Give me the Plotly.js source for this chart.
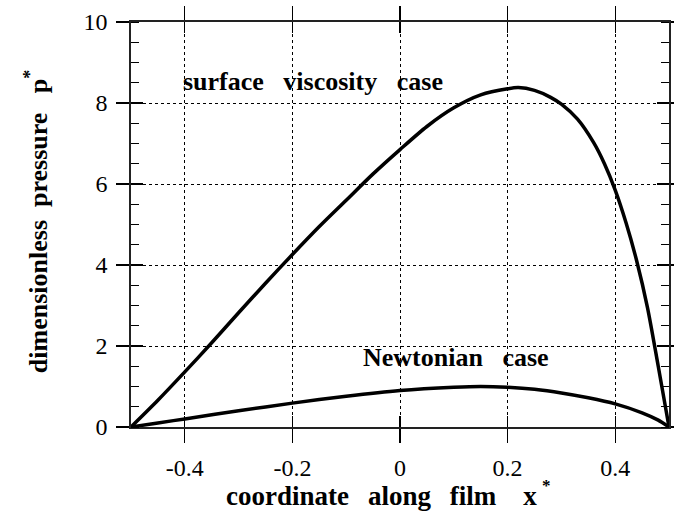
<!DOCTYPE html>
<html>
<head>
<meta charset="utf-8">
<script src="https://cdn.plot.ly/plotly-3.0.1.min.js"></script>
<style>html,body{margin:0;padding:0;background:#fff;}#chart{width:674px;height:511px;}</style>
</head>
<body>
<div id="chart"></div>
<script>
// Surface viscosity case
const xSurface = [-0.5,-0.45,-0.4,-0.35,-0.3,-0.25,-0.2,-0.15,-0.1,-0.05,0,0.05,0.1,0.15,0.2,0.22,0.25,0.28,0.3,0.33,0.36,0.38,0.4,0.42,0.44,0.46,0.48,0.5];
const pSurface = [0,0.66,1.36,2.08,2.82,3.55,4.26,4.95,5.6,6.25,6.85,7.42,7.88,8.2,8.35,8.38,8.31,8.14,7.97,7.6,7.02,6.5,5.85,5.05,4.1,2.95,1.5,0];
// Newtonian case
const xNewton = [-0.5,-0.45,-0.4,-0.3,-0.2,-0.1,0,0.1,0.15,0.2,0.25,0.3,0.35,0.4,0.45,0.48,0.5];
const pNewton = [0,0.1,0.2,0.4,0.59,0.76,0.9,0.98,1.0,0.98,0.93,0.84,0.72,0.57,0.35,0.17,0];
const xTicks = [-0.4,-0.2,0,0.2,0.4];
const xTickLabels = ['-0.4','-0.2','0','0.2','0.4'];
const yTicks = [0,2,4,6,8,10];
const yTickLabels = ['0','2','4','6','8','10'];
const labelSurface = 'surface&nbsp;&nbsp;&nbsp;viscosity&nbsp;&nbsp;&nbsp;case';
const labelNewton = 'Newtonian&nbsp;&nbsp;&nbsp;case';
const xTitle = 'coordinate\u2002\u2009along\u2002\u2009film\u2003x';
const xTitleStar = '*';
const yTitle = 'dimensionless&nbsp;&nbsp;pressure&nbsp;&nbsp;&nbsp;p<sup>*</sup>';

const serif = 'Liberation Serif, Times New Roman, serif';
const lineStyle = {color:'#000', width:3.5, shape:'spline', smoothing:0.8};

const data = [
  {x:xSurface, y:pSurface, mode:'lines', line:lineStyle, hoverinfo:'skip', showlegend:false},
  {x:xNewton, y:pNewton, mode:'lines', line:lineStyle, hoverinfo:'skip', showlegend:false},
  {x:[-0.5], y:[0], xaxis:'x2', yaxis:'y2', mode:'markers', marker:{size:1, color:'rgba(0,0,0,0)'}, showlegend:false, hoverinfo:'skip'}
];

const layout = {
  width:674, height:511,
  margin:{l:131, r:5, t:22, b:84},
  paper_bgcolor:'#fff', plot_bgcolor:'#fff',
  font:{family:serif, color:'#000', size:24},
  showlegend:false,
  xaxis:{
    range:[-0.5,0.5], tickvals:xTicks, ticktext:xTickLabels,
    ticks:'outside', ticklen:14, tickwidth:1.3, tickcolor:'#000',
    ticklabelstandoff:5,
    showline:true, linecolor:'#222', linewidth:1.6, mirror:'allticks',
    showgrid:true, gridcolor:'#000', gridwidth:1, griddash:'dot',
    zeroline:false, tickfont:{family:serif, size:24, color:'#000'}
  },
  yaxis:{
    range:[0,10], tickvals:yTicks, ticktext:yTickLabels,
    ticks:'outside', ticklen:13, tickwidth:1.3, tickcolor:'#000',
    ticklabelstandoff:4,
    minor:{ticks:'inside', dtick:0.5, ticklen:8, tickwidth:1, tickcolor:'#000', showgrid:false},
    showline:true, linecolor:'#222', linewidth:1.6, mirror:'allticks',
    showgrid:true, gridcolor:'#000', gridwidth:1, griddash:'dot',
    zeroline:false, tickfont:{family:serif, size:24, color:'#000'}
  },
  xaxis2:{
    overlaying:'x', anchor:'y2', range:[-0.5,0.5], tickvals:xTicks,
    ticks:'inside', ticklen:11, tickwidth:1.3, tickcolor:'#000',
    showticklabels:false, showline:false, mirror:'allticks', showgrid:false, zeroline:false
  },
  yaxis2:{
    overlaying:'y', anchor:'x2', range:[0,10], tickvals:yTicks,
    ticks:'inside', ticklen:12, tickwidth:1.3, tickcolor:'#000',
    showticklabels:false, showline:false, mirror:'allticks', showgrid:false, zeroline:false
  },
  annotations:[
    {text:labelSurface, xref:'paper', yref:'paper', x:(181-131)/538, y:(426.7-81)/404.7,
     xanchor:'left', yanchor:'middle', showarrow:false,
     font:{family:serif, size:26, color:'#000', weight:'bold'}},
    {text:labelNewton, xref:'paper', yref:'paper', x:(361-131)/538, y:(426.7-357)/404.7,
     xanchor:'left', yanchor:'middle', showarrow:false,
     font:{family:serif, size:26, color:'#000', weight:'bold'}},
    {text:'<b>'+xTitle+'</b>', xref:'paper', yref:'paper', x:(224-131)/538, y:(426.7-496)/404.7,
     xanchor:'left', yanchor:'middle', showarrow:false,
     font:{family:serif, size:27, color:'#000'}},
    {text:'<b>'+xTitleStar+'</b>', xref:'paper', yref:'paper', x:(540-131)/538, y:(426.7-485)/404.7,
     xanchor:'left', yanchor:'middle', showarrow:false,
     font:{family:serif, size:17, color:'#000'}},
    {text:'<b>'+yTitle+'</b>', xref:'paper', yref:'paper', x:(36-131)/538, y:(426.7-221)/404.7,
     xanchor:'center', yanchor:'middle', showarrow:false, textangle:-90,
     font:{family:serif, size:26, color:'#000'}}
  ]
};

Plotly.newPlot('chart', data, layout, {staticPlot:true, displayModeBar:false});
</script>
</body>
</html>
